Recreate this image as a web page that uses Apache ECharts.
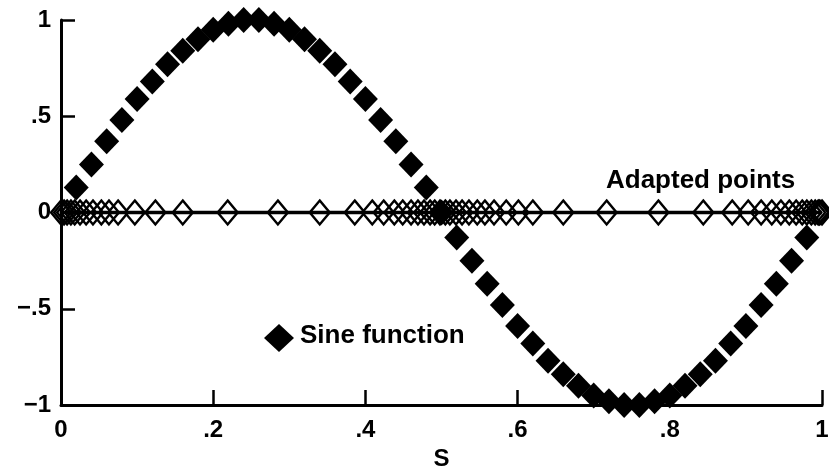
<!DOCTYPE html>
<html><head><meta charset="utf-8">
<script src="https://cdn.jsdelivr.net/npm/echarts/dist/echarts.min.js"></script>
<style>html,body{margin:0;padding:0;background:#fff}#c{width:829px;height:473px}</style>
</head><body><div id="c"></div>
<script>
// Sine function samples (filled diamonds)
const sineS = [0.02,0.04,0.06,0.08,0.10,0.12,0.14,0.16,0.18,0.20,0.22,0.24,0.26,0.28,0.30,0.32,0.34,0.36,0.38,0.40,0.42,0.44,0.46,0.48,0.50,
  0.52,0.54,0.56,0.58,0.60,0.62,0.64,0.66,0.68,0.70,0.72,0.74,0.76,0.78,0.80,0.82,0.84,0.86,0.88,0.90,0.92,0.94,0.96,0.98];
const sineValues = [0.13,0.25,0.37,0.48,0.59,0.68,0.77,0.84,0.90,0.95,0.98,1.00,1.00,0.98,0.95,0.90,0.84,0.77,0.68,0.59,0.48,0.37,0.25,0.13,0.00,
  -0.13,-0.25,-0.37,-0.48,-0.59,-0.68,-0.77,-0.84,-0.90,-0.95,-0.98,-1.00,-1.00,-0.98,-0.95,-0.90,-0.84,-0.77,-0.68,-0.59,-0.48,-0.37,-0.25,-0.13];
// Adapted points (hollow diamonds on the zero line)
const adaptedS = [0.000,0.004,0.008,0.013,0.018,0.025,0.033,0.042,0.053,0.063,0.075,0.097,0.124,0.160,0.219,0.285,0.340,0.386,0.409,0.424,
  0.438,0.449,0.460,0.469,0.477,0.485,0.491,0.498,0.505,0.511,0.519,0.527,0.536,0.547,0.557,0.569,0.585,0.601,0.620,0.660,
  0.717,0.785,0.844,0.882,0.903,0.920,0.934,0.946,0.957,0.966,0.974,0.980,0.986,0.991,0.995,0.997,1.000];
const adaptedValues = [0,0,0,0,0,0,0,0,0,0,0,0,0,0,0,0,0,0,0,0,0,0,0,0,0,0,0,0,0,0,0,0,0,0,0,0,0,0,0,0,0,0,0,0,0,0,0,0,0,0,0,0,0,0,0,0,0];
// Tick labels
const xTickValues = [0,0.2,0.4,0.6,0.8,1];
const xTickLabels = ['0','.2','.4','.6','.8','1'];
const yTickValues = [-1,-0.5,0,0.5,1];
const yTickLabels = ['\u22121','\u2212.5','0','.5','1'];
const xAxisTitle = 'S';
const sineLabel = 'Sine function';
const adaptedLabel = 'Adapted points';

const FONT = '"Liberation Sans", Arial, Helvetica, sans-serif';
function lab(values, labels){ return v => { for(let i=0;i<values.length;i++){ if(Math.abs(values[i]-v)<1e-9) return labels[i]; } return ''; }; }

const chart = echarts.init(document.getElementById('c'), null, {renderer:'canvas'});
chart.setOption({
  animation:false,
  backgroundColor:'#fff',
  grid:{left:61, right:7, top:20, bottom:68, containLabel:false, outerBoundsMode:'none'},
  xAxis:{type:'value', min:0, max:1, interval:0.2,
    name:xAxisTitle, nameLocation:'middle', nameGap:41,
    nameTextStyle:{fontFamily:FONT, fontWeight:'bold', fontSize:24, color:'#000'},
    axisLine:{show:true, onZero:false, lineStyle:{color:'#000', width:3}},
    axisTick:{show:true, inside:true, length:15, lineStyle:{color:'#000', width:2.5}},
    axisLabel:{formatter:lab(xTickValues,xTickLabels), margin:13, fontFamily:FONT, fontWeight:'bold', fontSize:24, color:'#000'},
    splitLine:{show:false}},
  yAxis:{type:'value', min:-1, max:1, interval:0.5,
    axisLine:{show:true, onZero:false, lineStyle:{color:'#000', width:3}},
    axisTick:{show:true, inside:true, length:14, lineStyle:{color:'#000', width:2.5}},
    axisLabel:{formatter:lab(yTickValues,yTickLabels), margin:10, fontFamily:FONT, fontWeight:'bold', fontSize:24, color:'#000'},
    splitLine:{show:false}},
  series:[
    {type:'line', name:adaptedLabel, data:adaptedS.map((s,i)=>[s,adaptedValues[i]]),
     symbol:'diamond', symbolSize:[20,24], showAllSymbol:true, z:2,
     lineStyle:{color:'#000', width:3.5},
     itemStyle:{color:'rgba(0,0,0,0)', borderColor:'#000', borderWidth:2.4, opacity:1},
     emphasis:{disabled:true}},
    {type:'scatter', name:sineLabel, data:sineS.map((s,i)=>[s,sineValues[i]]),
     symbol:'diamond', symbolSize:[25,26], z:3,
     itemStyle:{color:'#000', opacity:1}, emphasis:{disabled:true}}
  ],
  graphic:[
    {type:'polygon', shape:{points:[[279,324],[294,338],[279,352],[264,338]]}, style:{fill:'#000'}},
    {type:'text', left:300, top:323, style:{text:sineLabel, font:'bold 26px '+FONT, fill:'#000'}},
    {type:'text', left:606, top:168, style:{text:adaptedLabel, font:'bold 26px '+FONT, fill:'#000'}}
  ]
});
</script></body></html>
